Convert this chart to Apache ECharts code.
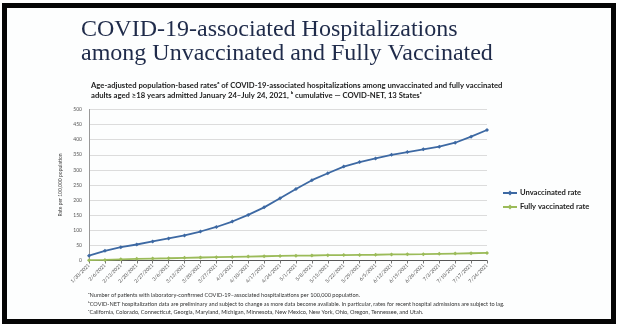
<!DOCTYPE html>
<html><head><meta charset="utf-8">
<script src="https://cdn.jsdelivr.net/npm/echarts@6/dist/echarts.min.js"></script>
<style>html,body{margin:0;padding:0;background:#fff}#c{width:624px;height:332px}</style>
</head><body><div id="c"></div>
<script>
const categories = ["1/30/2021","2/6/2021","2/13/2021","2/20/2021","2/27/2021","3/6/2021","3/13/2021","3/20/2021","3/27/2021","4/3/2021","4/10/2021","4/17/2021","4/24/2021","5/1/2021","5/8/2021","5/15/2021","5/22/2021","5/29/2021","6/5/2021","6/12/2021","6/19/2021","6/26/2021","7/3/2021","7/10/2021","7/17/2021","7/24/2021"];
const unvaccinated = [16,32,44,53,63,73,83,96,111,129,151,176,206,237,266,289,311,326,338,350,359,368,377,390,410,432];
const fullyVaccinated = [1,2,4,5.5,6.5,7.5,9,10,11,12,13,14,15,16,16.5,17.5,18,18.5,19,20,20.5,21,22,23,24,25];
const yTicks = {min:0, max:500, interval:50};
const titleLines = ["COVID-19-associated Hospitalizations","among Unvaccinated and Fully Vaccinated"];
const subtitleLines = ["Age-adjusted population-based rates\u1d43 of COVID-19-associated hospitalizations among unvaccinated and fully vaccinated","adults aged \u226518 years admitted January 24\u2013July 24, 2021, \u1d47 cumulative \u2014 COVID-NET, 13 States\u1d9c"];
const footnotes = ["\u1d43Number of patients with laboratory-confirmed COVID-19\u2013associated hospitalizations per 100,000 population.","\u1d47COVID-NET hospitalization data are preliminary and subject to change as more data become available. In particular, rates for recent hospital admissions are subject to lag.","\u1d9cCalifornia, Colorado, Connecticut, Georgia, Maryland, Michigan, Minnesota, New Mexico, New York, Ohio, Oregon, Tennessee, and Utah."];

const chart = echarts.init(document.getElementById('c'), null, {renderer:'canvas'});
const graphics = [
  {type:'rect', shape:{x:4.5,y:5.5,width:609,height:316}, style:{fill:'#fdfefe', stroke:'#050505', lineWidth:5}, z:-10},
  {type:'text', left:81, top:18, style:{text:titleLines[0], font:'24px "Liberation Serif", serif', fill:'#1f2b4a'}},
  {type:'text', left:81, top:42, style:{text:titleLines[1], font:'24px "Liberation Serif", serif', fill:'#1f2b4a'}},
  {type:'text', left:91, top:82, style:{text:subtitleLines[0], font:'bold 7.7px Lato, sans-serif', fill:'#222'}},
  {type:'text', left:91, top:92, style:{text:subtitleLines[1], font:'bold 7.7px Lato, sans-serif', fill:'#222'}}
];
footnotes.forEach((t,i)=>graphics.push({type:'text', left:88, top:292+i*8.7, style:{text:t, font:'5.6px Lato, sans-serif', fill:'#333'}}));

chart.setOption({
  animation:false,
  backgroundColor:'#ffffff',
  graphic: graphics,
  grid:{left:89, right:137, top:109.5, height:151},
  legend:{
    orient:'vertical', left:497, top:184, itemGap:6, itemWidth:14, itemHeight:6,
    textStyle:{fontFamily:'Lato, sans-serif', fontWeight:'bold', fontSize:7.6, color:'#222', padding:[0,0,0,-2]},
    data:[{name:'Unvaccinated rate'},{name:'Fully vaccinated rate'}]
  },
  xAxis:{
    type:'category', data:categories, boundaryGap:false,
    axisLine:{lineStyle:{color:'#555', width:1}},
    axisTick:{show:true, length:3, lineStyle:{color:'#777'}},
    axisLabel:{rotate:45, fontSize:5, color:'#555', fontFamily:'Lato, sans-serif', interval:0, margin:4}
  },
  yAxis:{
    type:'value', min:yTicks.min, max:yTicks.max, interval:yTicks.interval,
    name:'Rate per 100,000 population', nameLocation:'middle', nameGap:15,
    nameTextStyle:{fontSize:5, color:'#444', fontFamily:'Lato, sans-serif'},
    axisLine:{show:true, lineStyle:{color:'#999'}},
    axisTick:{show:false},
    splitLine:{lineStyle:{color:'#dcdcdc', width:1}},
    axisLabel:{fontSize:5, color:'#555', fontFamily:'Lato, sans-serif', margin:7}
  },
  series:[
    {name:'Unvaccinated rate', type:'line', data:unvaccinated, symbol:'diamond', symbolSize:4,
     lineStyle:{color:'#3d69a3', width:1.8}, itemStyle:{color:'#3d69a3'}},
    {name:'Fully vaccinated rate', type:'line', data:fullyVaccinated, symbol:'diamond', symbolSize:4,
     lineStyle:{color:'#9bbb59', width:1.8}, itemStyle:{color:'#9bbb59'}}
  ]
});
</script></body></html>
